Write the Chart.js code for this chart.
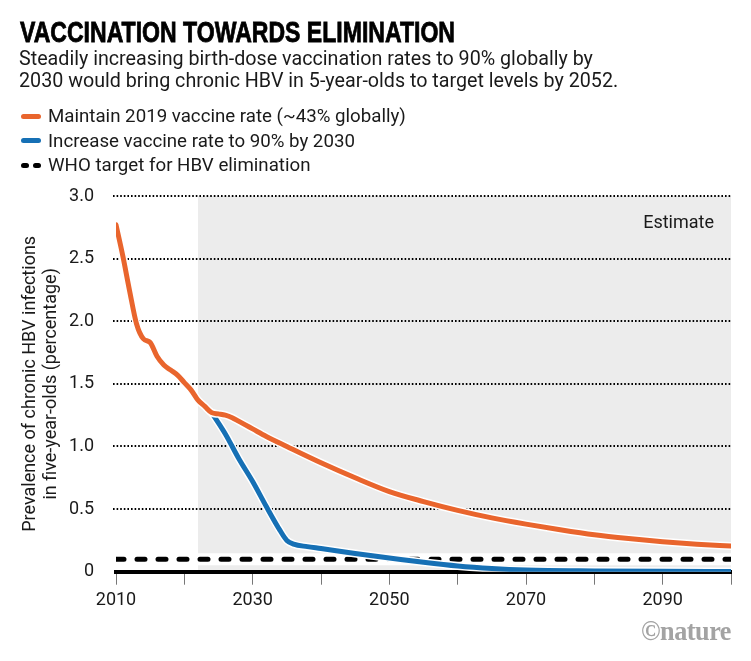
<!DOCTYPE html>
<html>
<head>
<meta charset="utf-8">
<script src="https://cdn.jsdelivr.net/npm/chart.js@4.4.1/dist/chart.umd.min.js"></script>
<style>
  html, body { margin: 0; padding: 0; background: #fff; }
  body { width: 751px; height: 661px; position: relative; overflow: hidden; font-family: Roboto, sans-serif; color: #1a1a1a; }
  #wrap { position: absolute; left: 0; top: 0; width: 751px; height: 661px; }
  .txt { position: absolute; z-index: 2; white-space: nowrap; }
  #title { left: 20px; top: 15px; font-family: "Liberation Sans Narrow", "Liberation Sans", sans-serif; font-weight: 700; font-size: 29px; line-height: 34px; color: #000; -webkit-text-stroke: 0.8px #000; transform-origin: 0 0; display: inline-block; }
  #sub { left: 19px; top: 48px; font-size: 19.7px; line-height: 21.5px; }
  .leg { left: 21px; height: 24px; line-height: 24px; font-size: 18.7px; display: flex; align-items: center; }
  .mk { width: 20px; height: 5px; border-radius: 3px; margin-right: 7px; }
  .dash { display: flex; gap: 4px; width: 20px; margin-right: 7px; }
  .dash span { width: 8px; height: 5px; border-radius: 2.5px; background: #000; }
  #logo { left: 641px; top: 616px; font-family: "Liberation Serif", serif; font-weight: 700; font-size: 27px; color: #a3a3a3; transform-origin: 0 0; display: inline-block; letter-spacing: -0.5px; }
</style>
</head>
<body>
<div id="wrap"><canvas id="hbvChart"></canvas></div>
<div class="txt" id="title" data-fit="435">VACCINATION TOWARDS ELIMINATION</div>
<div class="txt" id="sub">Steadily increasing birth-dose vaccination rates to 90% globally by<br>2030 would bring chronic HBV in 5-year-olds to target levels by 2052.</div>
<div class="txt leg" style="top:104px"><div class="mk" style="background:#e9652d"></div>Maintain 2019 vaccine rate (~43% globally)</div>
<div class="txt leg" style="top:128.5px"><div class="mk" style="background:#1670b5"></div>Increase vaccine rate to 90% by 2030</div>
<div class="txt leg" style="top:153px"><div class="dash"><span></span><span></span></div>WHO target for HBV elimination</div>
<div class="txt" id="logo" data-fit="90">©nature</div>
<script>
// data
const maintainYears = [2010, 2011, 2012, 2013, 2014, 2015, 2016, 2017, 2018, 2019, 2020, 2021, 2022, 2023, 2024, 2025, 2026, 2027, 2028, 2029, 2030, 2032, 2035, 2040, 2045, 2050, 2055, 2060, 2065, 2070, 2075, 2080, 2085, 2090, 2095, 2100];
const maintainRate = [2.77, 2.52, 2.24, 1.98, 1.86, 1.83, 1.72, 1.65, 1.61, 1.57, 1.51, 1.45, 1.37, 1.32, 1.27, 1.26, 1.25, 1.23, 1.2, 1.17, 1.14, 1.08, 1.0, 0.87, 0.75, 0.64, 0.56, 0.49, 0.43, 0.38, 0.335, 0.295, 0.265, 0.24, 0.22, 0.205];

const increaseYears = [2024, 2026, 2028, 2030, 2032, 2034, 2035, 2036, 2038, 2040, 2045, 2050, 2055, 2060, 2065, 2070, 2080, 2090, 2100];
const increaseRate = [1.27, 1.1, 0.9, 0.72, 0.52, 0.33, 0.25, 0.22, 0.2, 0.185, 0.145, 0.11, 0.075, 0.045, 0.025, 0.013, 0.006, 0.003, 0.002];

const targetYears = [2010, 2100];
const targetRate = [0.1, 0.1];

const estimateStart = 2022;
const estimateLabel = 'Estimate';
const yTitle = ['Prevalence of chronic HBV infections', 'in five-year-olds (percentage)'];

const orange = '#e9652d';
const blue = '#1670b5';

function pts(xs, ys) {
  return xs.map((x, i) => ({ x: x, y: ys[i] }));
}

// grey "estimate" panel behind everything, plus dotted gridlines on top of it
const shade = {
  id: 'shade',
  beforeDraw(chart) {
    const { ctx, chartArea, scales: { x, y } } = chart;
    const x0 = x.getPixelForValue(estimateStart);
    const top = y.getPixelForValue(3);
    ctx.save();
    ctx.fillStyle = '#ececec';
    ctx.fillRect(x0, top, chartArea.right - x0, y.getPixelForValue(0) - top);
    ctx.fillStyle = '#1a1a1a';
    ctx.font = '18px Roboto';
    ctx.textAlign = 'right';
    ctx.textBaseline = 'middle';
    ctx.fillText(estimateLabel, chartArea.right - 17, top + 27);
    ctx.restore();
  },
  beforeDatasetsDraw(chart) {
    const { ctx, chartArea, scales: { y } } = chart;
    ctx.save();
    ctx.strokeStyle = '#000';
    ctx.lineWidth = 1.8;
    ctx.setLineDash([1.6, 2]);
    y.ticks.forEach(t => {
      if (t.value === 0) return;
      const py = Math.round(y.getPixelForValue(t.value));
      ctx.beginPath();
      ctx.moveTo(chartArea.left - 3, py);
      ctx.lineTo(chartArea.right, py);
      ctx.stroke();
    });
    ctx.restore();
  }
};

Chart.defaults.font.family = 'Roboto';
Chart.defaults.color = '#1a1a1a';

new Chart(document.getElementById('hbvChart').getContext('2d'), {
  type: 'line',
  data: {
    datasets: [
      { data: pts(increaseYears, increaseRate), borderColor: blue, borderWidth: 5, order: 3 },
      { data: pts(increaseYears, increaseRate), borderColor: '#fff', borderWidth: 8, order: 4 },
      { data: pts(maintainYears, maintainRate), borderColor: orange, borderWidth: 5, order: 1 },
      { data: pts(maintainYears, maintainRate), borderColor: '#fff', borderWidth: 8, order: 2 },
      { data: pts(targetYears, targetRate), borderColor: '#000', borderWidth: 5, borderDash: [8, 13], borderCapStyle: 'round', order: 5 },
      { data: pts(targetYears, targetRate), borderColor: '#fff', borderWidth: 12, order: 6 }
    ]
  },
  options: {
    responsive: true,
    maintainAspectRatio: false,
    animation: false,
    parsing: false,
    layout: { padding: { top: 196, right: 20, bottom: 49.3, left: 0 } },
    elements: {
      point: { radius: 0 },
      line: { cubicInterpolationMode: 'monotone', borderCapStyle: 'round', borderJoinStyle: 'round' }
    },
    plugins: { legend: { display: false }, tooltip: { enabled: false } },
    scales: {
      x: {
        type: 'linear',
        min: 2010,
        max: 2100,
        afterFit: s => { s.height = 40; },
        border: { display: true, color: '#000', width: 4 },
        grid: { drawOnChartArea: false, drawTicks: true, tickLength: 13, tickColor: '#777', tickWidth: 1 },
        ticks: {
          stepSize: 10,
          autoSkip: false,
          maxRotation: 0,
          padding: 5,
          font: { size: 18 },
          callback: v => (v % 20 === 10 ? String(v) : '')
        }
      },
      y: {
        min: 0,
        max: 3,
        afterFit: s => { s.width = 116; },
        border: { display: false },
        grid: { display: false },
        ticks: {
          stepSize: 0.5,
          padding: 14,
          font: { size: 18 },
          callback: v => (v === 0 ? '0' : v.toFixed(1))
        },
        title: {
          display: true,
          text: yTitle,
          font: { size: 18, lineHeight: 1.17 },
          padding: { top: 19.5, bottom: 0 }
        }
      }
    }
  },
  plugins: [shade]
});

document.fonts.ready.then(() => {
  document.querySelectorAll('[data-fit]').forEach(el => {
    const w = +el.dataset.fit;
    el.style.transform = 'scaleX(' + (w / el.getBoundingClientRect().width) + ')';
  });
});
</script>
</body>
</html>
